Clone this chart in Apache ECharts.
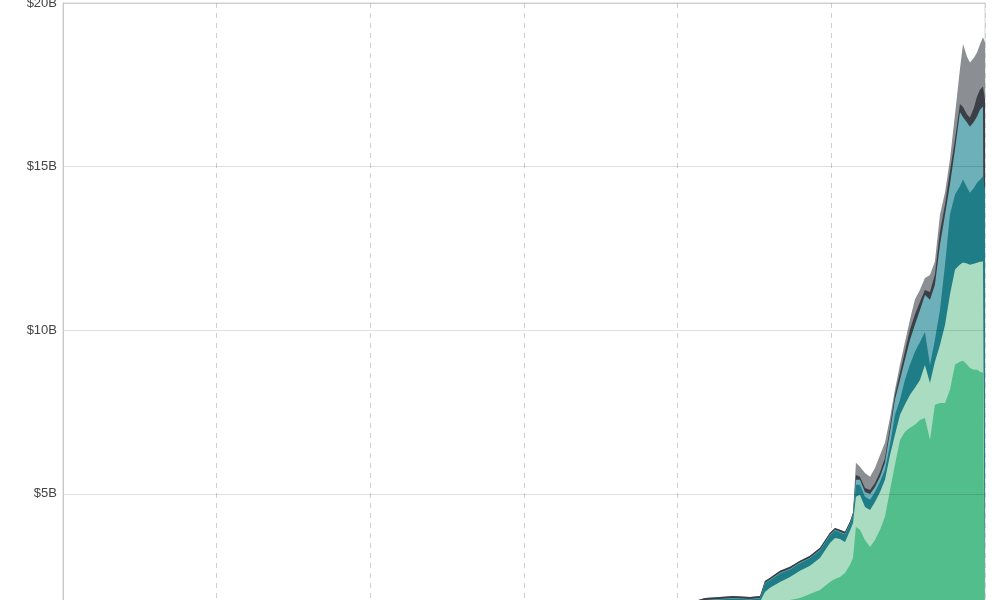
<!DOCTYPE html>
<html>
<head>
<meta charset="utf-8">
<script src="https://cdn.jsdelivr.net/npm/echarts@6/dist/echarts.min.js"></script>
<style>
html,body{margin:0;padding:0;overflow:hidden;background:#fff;width:1000px;height:600px;}
#chart{width:1000px;height:700px;}
</style>
</head>
<body>
<div id="chart"></div>
<script>
// decimal years
const years = [2015.00, 2015.50, 2016.00, 2016.50, 2017.00, 2017.25, 2017.50, 2017.75, 2018.00, 2018.25,
  2018.50, 2018.75, 2019.00, 2019.10, 2019.178, 2019.275, 2019.360, 2019.471, 2019.536, 2019.568,
  2019.601, 2019.666, 2019.731, 2019.796, 2019.861, 2019.926, 2019.991, 2020.024, 2020.056, 2020.089,
  2020.121, 2020.141, 2020.160, 2020.186, 2020.219, 2020.252, 2020.284, 2020.317, 2020.349, 2020.382,
  2020.414, 2020.447, 2020.479, 2020.512, 2020.544, 2020.577, 2020.609, 2020.642, 2020.674, 2020.707,
  2020.740, 2020.772, 2020.805, 2020.837, 2020.857, 2020.883, 2020.902, 2020.928, 2020.948, 2020.967,
  2020.987, 2021.000];

// layer values in $B (stacked bottom to top)
const seriesA = [0.01, 0.02, 0.01, 0.01, 0.01, 0.05, 0.10, 0.35, 1.10, 1.40,
  1.30, 1.00, 1.00, 1.00, 1.00, 1.05, 1.10, 1.10, 1.15, 1.30,
  1.40, 1.60, 1.76, 1.82, 1.94, 2.06, 2.31, 2.40, 2.46, 2.58,
  2.83, 3.04, 3.99, 3.90, 3.59, 3.38, 3.59, 3.90, 4.30, 5.12,
  5.89, 6.65, 6.90, 7.02, 7.11, 7.26, 7.32, 6.65, 7.72, 7.78,
  7.78, 8.18, 8.95, 9.04, 9.07, 8.95, 8.85, 8.79, 8.79, 8.73,
  8.70, 8.67];
const seriesB = [0, 0, 0, 0, 0, 0, 0, 0, 0.03, 0.15,
  0.20, 0.40, 0.40, 0.42, 0.50, 0.50, 0.48, 0.50, 0.55, 0.70,
  0.73, 0.71, 0.70, 0.83, 0.86, 0.98, 1.19, 1.25, 1.16, 0.95,
  1.04, 1.07, 0.92, 1.07, 1.01, 1.13, 1.16, 1.16, 1.13, 1.07,
  0.92, 0.77, 0.83, 1.01, 1.13, 1.22, 1.62, 1.74, 1.32, 1.77,
  2.39, 2.91, 2.91, 2.97, 3.00, 3.09, 3.15, 3.24, 3.27, 3.36,
  3.40, 3.43];
const seriesC = [0, 0, 0, 0, 0, 0, 0, 0, 0.03, 0.05,
  0.10, 0.15, 0.23, 0.22, 0.24, 0.22, 0.22, 0.17, 0.10, 0.26,
  0.23, 0.26, 0.23, 0.23, 0.23, 0.23, 0.23, 0.23, 0.20, 0.23,
  0.20, 0.23, 0.37, 0.31, 0.31, 0.31, 0.31, 0.31, 0.31, 0.31,
  0.61, 0.46, 0.76, 0.92, 1.10, 1.16, 1.01, 0.55, 0.67, 1.07,
  1.84, 2.45, 2.29, 2.39, 2.54, 2.32, 2.20, 2.32, 2.45, 2.51,
  2.60, 2.20];
const seriesD = [0, 0, 0, 0, 0, 0, 0, 0, 0, 0,
  0, 0.01, 0.02, 0.02, 0.02, 0.02, 0.02, 0.02, 0.02, 0.02,
  0.02, 0.02, 0.02, 0.02, 0.02, 0.02, 0.02, 0.02, 0.02, 0.02,
  0.02, 0.02, 0.15, 0.15, 0.15, 0.18, 0.15, 0.15, 0.21, 0.40,
  0.46, 0.61, 0.61, 0.76, 0.83, 0.98, 1.13, 1.99, 1.68, 1.99,
  1.53, 0.92, 1.38, 2.26, 1.90, 1.99, 2.02, 2.02, 2.02, 2.14,
  2.14, 2.54];
const seriesE = [0, 0, 0, 0, 0, 0, 0, 0, 0.01, 0.02,
  0.02, 0.02, 0.03, 0.05, 0.06, 0.06, 0.06, 0.06, 0.06, 0.06,
  0.06, 0.06, 0.06, 0.06, 0.06, 0.06, 0.06, 0.06, 0.06, 0.06,
  0.06, 0.06, 0.15, 0.09, 0.12, 0.12, 0.12, 0.15, 0.15, 0.15,
  0.15, 0.21, 0.25, 0.31, 0.31, 0.25, 0.15, 0.24, 0.31, 0.40,
  0.31, 0.40, 0.31, 0.25, 0.31, 0.24, 0.28, 0.43, 0.61, 0.61,
  0.61, 0.21];
const seriesF = [0, 0, 0, 0, 0, 0, 0, 0, 0, 0,
  0, 0, 0, 0, 0, 0, 0, 0, 0, 0,
  0, 0, 0, 0, 0, 0, 0, 0, 0, 0,
  0, 0, 0.37, 0.31, 0.46, 0.40, 0.46, 0.52, 0.46, 0.28,
  0.15, 0.25, 0.28, 0.31, 0.46, 0.37, 0.37, 0.52, 0.40, 0.52,
  0.37, 0.36, 0.76, 1.07, 1.93, 1.77, 1.68, 1.53, 1.35, 1.38,
  1.50, 1.74];

const yTicks = [0, 5, 10, 15, 20];
const layers = [
  {name: 'A', data: seriesA, color: '#52be8b'},
  {name: 'B', data: seriesB, color: '#a9dcc0'},
  {name: 'C', data: seriesC, color: '#1e7d86'},
  {name: 'D', data: seriesD, color: '#6db0ba'},
  {name: 'E', data: seriesE, color: '#3b3f46'},
  {name: 'F', data: seriesF, color: '#8b8e92'}
];

// cumulative tops (stacked), drawn top layer first so lower layers paint over
const running = years.map(() => 0);
const stacked = layers.map(l => {
  const tops = l.data.map((v, i) => (running[i] += v));
  return {name: l.name, color: l.color, tops: tops.slice()};
});

const chart = echarts.init(document.getElementById('chart'), null, {renderer: 'canvas'});
chart.setOption({
  animation: false,
  grid: {left: 63, right: 15, top: 3, bottom: 42.5, outerBoundsMode: 'none', containLabel: false,
    show: true, borderColor: '#d6d6d6', borderWidth: 1, backgroundColor: 'transparent'},
  xAxis: {
    type: 'value', min: 2015, max: 2021, interval: 1,
    axisLine: {show: false}, axisTick: {show: false},
    axisLabel: {color: '#555', fontSize: 13, formatter: v => String(v)},
    splitLine: {show: true, lineStyle: {color: '#d0d0d0', type: [5, 5], width: 1}}
  },
  yAxis: {
    type: 'value', min: yTicks[0], max: yTicks[yTicks.length - 1], interval: 5,
    z: 10,
    axisLine: {show: true, lineStyle: {color: '#c8c8c8'}},
    axisTick: {show: false},
    axisLabel: {color: '#444', fontSize: 13, margin: 6, fontFamily: 'Liberation Sans, Arial, sans-serif',
      formatter: v => '$' + v + 'B'},
    splitLine: {show: true, lineStyle: {color: 'rgba(0,0,0,0.12)', width: 1}}
  },
  series: stacked.slice().reverse().map((s, k) => ({
    name: s.name, type: 'line',
    z: 2 + k,
    data: years.map((y, i) => [y, s.tops[i]]),
    showSymbol: false, symbol: 'none',
    lineStyle: {width: 0},
    areaStyle: {color: s.color, opacity: 1, origin: 'start'},
    itemStyle: {color: s.color}
  }))
});
</script>
</body>
</html>
